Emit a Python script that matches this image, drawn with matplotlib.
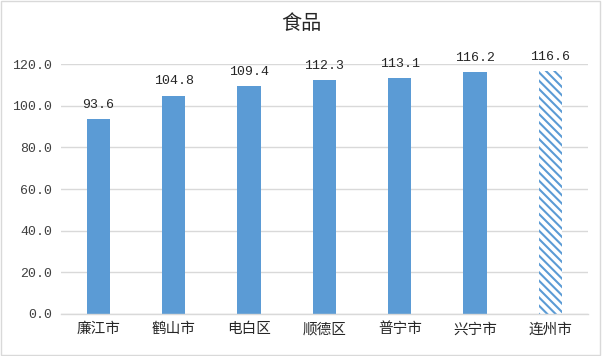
import numpy as np
import matplotlib
matplotlib.use("Agg")
import matplotlib.pyplot as plt
from matplotlib.patches import Rectangle

plt.rcParams['font.family'] = ['Noto Sans CJK SC', 'DejaVu Sans']
plt.rcParams['hatch.linewidth'] = 1.5

cities = ['廉江市', '鹤山市', '电白区', '顺德区', '普宁市', '兴宁市', '连州市']
values = [93.6, 104.8, 109.4, 112.3, 113.1, 116.2, 116.6]
yticks = [0, 20, 40, 60, 80, 100, 120]

blue = '#5b9bd5'
grid = '#d9d9d9'
mono = 'Liberation Mono'

fig = plt.figure(figsize=(6.02, 3.56), dpi=100)
ax = fig.add_axes([0.101, 0.118, 0.876, 0.702])

x = np.arange(len(cities))
ax.bar(x[:-1], values[:-1], width=0.31, color=blue, zorder=2)
# last bar is hatched
ax.bar(x[-1:], values[-1:], width=0.31, color='white', edgecolor=blue,
       hatch='\\\\\\\\', linewidth=0, zorder=2)

for xi, v in zip(x, values):
    ax.text(xi, v + 4, f'{v:.1f}', ha='center', va='bottom', fontsize=9.5,
            color='#262626', family=mono)

ax.set_ylim(0, 120)
ax.set_xlim(-0.5, len(cities) - 0.5)
ax.set_yticks(yticks)
ax.set_yticklabels([f'{t:.1f}' for t in yticks], fontsize=9.5, color='#404040', family=mono)
ax.set_xticks(x)
ax.set_xticklabels(cities, fontsize=10.5, color='#262626')
ax.tick_params(length=0, pad=6)
ax.grid(axis='y', color=grid, linewidth=1, zorder=0)
for s in ['top', 'right', 'left']:
    ax.spines[s].set_visible(False)
ax.spines['bottom'].set_color(grid)
ax.spines['bottom'].set_linewidth(1)

fig.text(0.5, 0.935, '食品', ha='center', va='center', fontsize=14.5, color='#262626')
fig.patches.append(Rectangle((0.002, 0.003), 0.995, 0.993, transform=fig.transFigure,
                             fill=False, edgecolor='#d9d9d9', linewidth=1))

fig.savefig('out.png', dpi=100)
